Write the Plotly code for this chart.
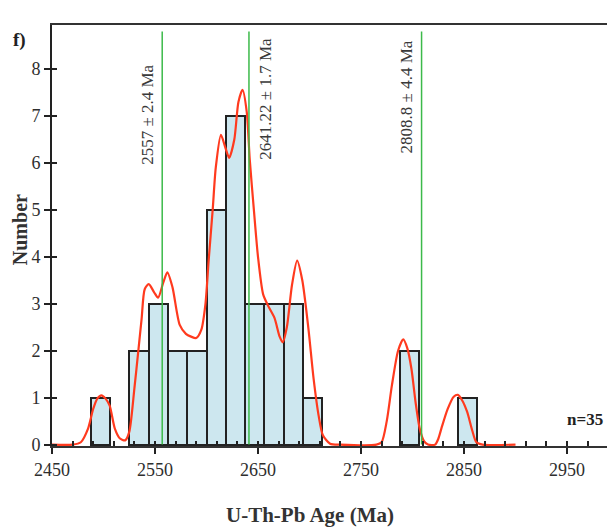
import plotly.graph_objects as go

# histogram: bin edges start at 2487.5 Ma, 18.75 Ma wide
bin_start = 2487.5
bin_width = 18.75
counts = [1, 0, 2, 3, 2, 2, 5, 7, 3, 3, 3, 1, 0, 0, 0, 0, 2, 0, 0, 1]

# probability density curve
kde_age = [2450, 2470, 2478, 2485, 2490, 2494, 2498, 2502, 2506, 2511, 2516, 2521, 2525,
           2530, 2534, 2537, 2540, 2544, 2549, 2553, 2558, 2562, 2567, 2574, 2580, 2585,
           2590, 2595, 2599, 2602, 2606, 2609, 2614, 2618, 2622, 2627, 2631, 2635, 2639,
           2642, 2646, 2650, 2655, 2660, 2666, 2671, 2674, 2678, 2683, 2688, 2693, 2699,
           2704, 2709, 2713, 2720, 2730, 2765, 2770, 2775, 2780, 2786, 2791, 2795, 2799,
           2803, 2807, 2811, 2815, 2822, 2825, 2828, 2834, 2840, 2844, 2848, 2853, 2858,
           2862, 2868, 2900]
kde_num = [0, 0, 0.05, 0.34, 0.76, 0.98, 1.05, 0.98, 0.83, 0.34, 0.13, 0.09, 0.27,
           1.2, 2.04, 2.68, 3.31, 3.42, 3.25, 3.13, 3.45, 3.67, 3.35, 2.55, 2.36, 2.3,
           2.27, 2.45, 3.0, 3.9, 5.0, 5.9, 6.6, 6.35, 6.11, 6.5, 7.3, 7.56, 7.1,
           6.07, 5.0, 4.0, 3.2, 2.95, 2.7, 2.3, 2.18, 2.5, 3.4, 3.92, 3.5, 2.46,
           1.4, 0.6, 0.2, 0.02, 0, 0, 0.05, 0.5, 1.26, 2.0, 2.24, 2.05, 1.61,
           0.9, 0.34, 0.08, 0, 0, 0.12, 0.34, 0.75, 1.02, 1.06, 0.95, 0.7, 0.3,
           0.05, 0, 0]

# weighted mean ages (vertical lines) and their labels
line_age = [2557, 2641.22, 2808.8]
line_top = 8.8
line_text = ["2557 ± 2.4 Ma", "2641.22 ± 1.7 Ma", "2808.8 ± 4.4 Ma"]
label_y = [7.03, 7.37, 7.41]
label_shift = [-15, 17, -15]

n_label = "n=35"
panel_label = "f)"

FONT = "Liberation Serif"

fig = go.Figure()

fig.add_trace(go.Scatter(
    x=kde_age, y=kde_num, mode="lines",
    line=dict(color="#ff3a1e", width=2.2, shape="spline", smoothing=0.7),
    hoverinfo="skip", showlegend=False,
))

centers = [bin_start + bin_width * (i + 0.5) for i, c in enumerate(counts) if c > 0]
heights = [c for c in counts if c > 0]
fig.add_trace(go.Bar(
    x=centers, y=heights, width=bin_width,
    marker=dict(color="rgba(166,213,226,0.56)", line=dict(color="#222222", width=2)),
    showlegend=False,
))

for a in line_age:
    fig.add_trace(go.Scatter(
        x=[a, a], y=[0, line_top], mode="lines",
        line=dict(color="#3cba4a", width=1.5),
        hoverinfo="skip", showlegend=False,
    ))

# invisible trace to carry the overlay axes (inside ticks)
fig.add_trace(go.Scatter(x=[2450], y=[0], xaxis="x2", yaxis="y2", mode="markers",
                         marker=dict(opacity=0), hoverinfo="skip", showlegend=False))

x_range = [2450, 2996.6]
y_range = [-0.03, 8.94]

# the page body has an 8px margin, so margins are reduced by 8px on the left/top
fig.update_layout(
    width=615, height=531,
    margin=dict(l=44, r=8, t=17, b=93),
    paper_bgcolor="white", plot_bgcolor="white",
    bargap=0,
    font=dict(family=FONT, color="#333333", size=16),
    xaxis=dict(
        range=x_range, tick0=2450, dtick=100, ticks="outside", ticklen=6,
        tickwidth=1.5, tickcolor="#222", showgrid=False, zeroline=False,
        showline=True, linecolor="#333", linewidth=2, mirror=True,
        tickfont=dict(family=FONT, size=18, color="#2e2e2e"),
        layer="below traces",
    ),
    yaxis=dict(
        range=y_range, tick0=0, dtick=1, ticks="outside", ticklen=6,
        tickwidth=1.5, tickcolor="#222", showgrid=False, zeroline=False,
        showline=True, linecolor="#222", linewidth=2,
        tickfont=dict(family=FONT, size=18, color="#2e2e2e"),
        layer="below traces",
    ),
    xaxis2=dict(
        range=x_range, overlaying="x", anchor="y2", side="bottom",
        tick0=2450, dtick=20, ticks="inside", ticklen=5, tickwidth=1.5,
        tickcolor="#222", showticklabels=False, showgrid=False, zeroline=False,
        showline=False,
    ),
    yaxis2=dict(
        range=y_range, overlaying="y", anchor="x2", side="left",
        tick0=0, dtick=1, ticks="inside", ticklen=5, tickwidth=1.5,
        tickcolor="#222", showticklabels=False, showgrid=False, zeroline=False,
        showline=False,
    ),
)

for a, t, y, s in zip(line_age, line_text, label_y, label_shift):
    fig.add_annotation(x=a, y=y, xref="x", yref="y", text=t, textangle=-90,
                       showarrow=False, xshift=s, xanchor="center", yanchor="middle",
                       font=dict(family=FONT, size=17, color="#3a3a3a"))

fig.add_annotation(x=-0.0565, y=0.513, xref="paper", yref="paper", text="<b>Number</b>",
                   textangle=-90, showarrow=False, xanchor="center", yanchor="middle",
                   borderpad=0, font=dict(family=FONT, size=20, color="#333"))
fig.add_annotation(x=0.458, y=-0.164, xref="paper", yref="paper",
                   text="<b>U-Th-Pb Age (Ma)</b>", showarrow=False,
                   xanchor="center", yanchor="middle",
                   font=dict(family=FONT, size=21, color="#333"))
fig.add_annotation(x=-0.057, y=0.964, xref="paper", yref="paper", text="<b>" + panel_label + "</b>",
                   showarrow=False, xanchor="center", yanchor="middle",
                   font=dict(family=FONT, size=19, color="#222"))
fig.add_annotation(x=0.947, y=0.062, xref="paper", yref="paper", text="<b>" + n_label + "</b>",
                   showarrow=False, xanchor="center", yanchor="middle",
                   font=dict(family=FONT, size=17, color="#222"))

fig.write_html("out.html")
